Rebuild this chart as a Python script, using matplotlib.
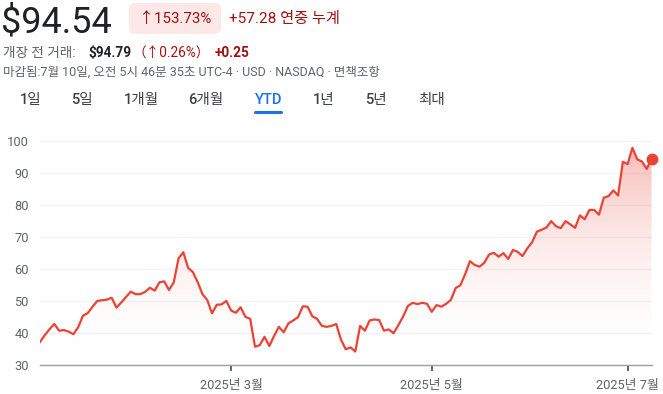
import numpy as np
import pandas as pd
import matplotlib
matplotlib.use("Agg")
import matplotlib.pyplot as plt
from matplotlib.colors import LinearSegmentedColormap
from matplotlib.patches import FancyBboxPatch

plt.rcParams['font.family'] = ['Roboto', 'Noto Sans CJK KR', 'DejaVu Sans']

# closing prices, one per trading day (2024-12-31 .. 2025-07-09)
prices = [
    37.3, 39.4, 41.3, 42.9, 40.8, 41.0, 40.5, 39.7, 41.9, 45.5,
    46.3, 48.3, 50.1, 50.3, 50.5, 51.1, 48.0, 49.6, 51.3, 53.0,
    52.2, 52.2, 52.9, 54.2, 53.3, 55.9, 56.2, 53.5, 55.9, 63.4,
    65.3, 60.4, 59.1, 56.0, 52.2, 50.4, 46.2, 48.9, 49.0, 50.1,
    47.1, 46.4, 48.1, 45.1, 44.5, 35.8, 36.3, 38.9, 36.0, 39.2,
    42.0, 40.3, 43.1, 44.0, 45.0, 48.4, 48.3, 45.3, 44.5, 42.3,
    42.0, 42.3, 42.9, 38.0, 35.0, 35.6, 34.3, 42.3, 40.8, 44.0,
    44.3, 44.1, 40.8, 41.2, 40.0, 42.5, 45.2, 48.5, 49.5, 49.1,
    49.5, 49.2, 46.7, 48.8, 48.3, 49.2, 50.4, 54.1, 55.0, 58.5,
    62.5, 61.3, 60.8, 62.0, 64.6, 65.1, 63.9, 65.0, 63.2, 66.0,
    65.4, 64.1, 66.5, 68.4, 71.7, 72.3, 73.0, 75.0, 73.4, 72.8,
    75.0, 74.0, 72.9, 76.8, 75.6, 78.5, 78.5, 77.0, 82.3, 82.8,
    84.6, 83.0, 93.5, 92.8, 97.9, 94.3, 93.6, 91.3, 94.54,
]
holidays = ['2025-01-01', '2025-01-09', '2025-01-20', '2025-02-17',
            '2025-04-18', '2025-05-26', '2025-06-19', '2025-07-04']
tick_months = ['2025-03', '2025-05', '2025-07']
tick_labels = ['2025년 3월', '2025년 5월', '2025년 7월']
y_ticks = [30, 40, 50, 60, 70, 80, 90, 100]
tabs = ['1일', '5일', '1개월', '6개월', 'YTD', '1년', '5년', '최대']

days = pd.bdate_range('2024-12-31', '2025-07-09', freq='C', holidays=holidays)
idx = np.arange(len(prices))
ym = days.strftime('%Y-%m')
tick_pos = [int(np.argmax(ym == m)) for m in tick_months]

W, H = 663, 394
fig = plt.figure(figsize=(W / 100, H / 100), dpi=100)

red = '#ea4335'
dark_red = '#a50e0e'
grey = '#5f6368'

ax = fig.add_axes([40 / W, (H - 365.3) / H, (652 - 40) / W, (365.3 - 125) / H])
ax.set_xlim(0, len(prices) - 1 + 0.1)
ax.set_ylim(30, 105)

# gradient fill under the line
cmap = LinearSegmentedColormap.from_list('fade', [(1, 1, 1, 0), (0.92, 0.26, 0.21, 0.4)])
grad = np.linspace(0, 1, 256).reshape(-1, 1)
im = ax.imshow(grad, extent=(0, len(prices) - 1, 30, 102), origin='lower',
               aspect='auto', cmap=cmap, zorder=1)
poly = ax.fill_between(idx, prices, 30, color='none')
im.set_clip_path(poly.get_paths()[0], transform=ax.transData)

ax.plot(idx, prices, color=red, lw=1.6, zorder=3, solid_joinstyle='round')
ax.plot(idx[-1], prices[-1], 'o', color=red, ms=7.5, zorder=4, clip_on=False)

ax.set_yticks(y_ticks)
ax.set_yticklabels([str(v) for v in y_ticks])
ax.yaxis.grid(True, color='#f1f3f4', lw=1)
ax.set_axisbelow(True)
ax.tick_params(axis='y', length=0, pad=8, labelsize=9.3, labelcolor=grey)
ax.set_xticks(tick_pos)
ax.set_xticklabels(tick_labels)
ax.tick_params(axis='x', length=4, width=1.4, color='#5f6368', pad=6,
               labelsize=9.3, labelcolor=grey)
for s in ['top', 'right', 'left']:
    ax.spines[s].set_visible(False)
ax.spines['bottom'].set_color('#9aa0a6')
ax.spines['bottom'].set_linewidth(1)

# header
def px(x, y):
    return x / W, 1 - y / H

fig.text(*px(1, 33), '$94.54', fontsize=26, color='#202124', va='baseline')
badge = FancyBboxPatch(px(129, 34), (221 - 129) / W, 31 / H,
                       boxstyle='round,pad=0,rounding_size=0.012',
                       transform=fig.transFigure, fc='#fce8e6', ec='none')
fig.patches.append(badge)
fig.text(*px(175, 19), '↑153.73%', fontsize=10.8, color=dark_red,
         ha='center', va='center')
fig.text(*px(229, 19), '+57.28 연중 누계', fontsize=11, color=dark_red, va='center')

fig.text(*px(3, 53), '개장 전 거래:', fontsize=9.8, color=grey, va='center')
fig.text(*px(88, 53), '$94.79', fontsize=9.8, color='#202124', va='center', fontweight='bold')
fig.text(*px(132, 53), '（↑0.26%）', fontsize=9.8, color=dark_red, va='center')
fig.text(*px(215, 53), '+0.25', fontsize=9.8, color=dark_red, va='center',
         fontweight='bold')
fig.text(*px(3, 72), '마감됨:7월 10일, 오전 5시 46분 35초 UTC-4 · USD · NASDAQ · 면책조항',
         fontsize=9, color=grey, va='center')

tab_x = [20, 71, 124, 188, 255, 313, 365, 418]
for tx, label in zip(tab_x, tabs):
    c = '#1a73e8' if label == 'YTD' else '#3c4043'
    fig.text(*px(tx, 100), label, fontsize=10.5, color=c, va='center',
             fontweight='medium')
fig.add_artist(plt.Line2D([255 / W, 281 / W], [1 - 111.5 / H] * 2,
                          color='#1a73e8', lw=2.2, transform=fig.transFigure,
                          solid_capstyle='round'))

fig.savefig('out.png', dpi=100)
